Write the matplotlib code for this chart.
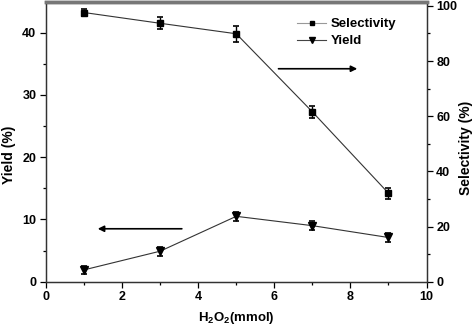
import matplotlib
matplotlib.use("Agg")
import matplotlib.pyplot as plt
from matplotlib.lines import Line2D

plt.rcParams['font.family'] = ['Liberation Sans', 'DejaVu Sans']
plt.rcParams['font.weight'] = 'bold'
plt.rcParams['mathtext.fontset'] = 'custom'
plt.rcParams['mathtext.rm'] = 'Liberation Sans:bold'
plt.rcParams['mathtext.default'] = 'rm'

h2o2 = [1, 3, 5, 7, 9]
yield_vals = [1.9, 4.9, 10.5, 9.0, 7.1]
yield_err = [0.7, 0.7, 0.7, 0.7, 0.7]
selectivity = [97.6, 93.7, 89.9, 61.6, 32.1]
select_err = [1.4, 2.2, 2.9, 2.1, 2.0]

xticks = [0, 2, 4, 6, 8, 10]
yticks_left = [0, 10, 20, 30, 40]
yticks_right = [0, 20, 40, 60, 80, 100]

fig = plt.figure(figsize=(4.74, 3.27), dpi=100)
ax = fig.add_axes([46/474, 1-281.7/327, (426.5-46)/474, (281.7-1.5)/327])
ax2 = ax.twinx()

ax.errorbar(h2o2, yield_vals, yerr=yield_err, color='#333333', lw=0.8,
            marker='v', ms=5.5, mfc='black', mec='black', ecolor='black',
            elinewidth=1.0, capsize=2.5, capthick=1.2)
ax2.errorbar(h2o2, selectivity, yerr=select_err, color='#333333', lw=0.8,
             marker='s', ms=4.5, mfc='black', mec='black', ecolor='black',
             elinewidth=1.0, capsize=2.5, capthick=1.2)

ax.set_xlim(0, 10)
ax.set_ylim(0, 45)
ax2.set_ylim(0, 101.6)
ax.set_xticks(xticks)
ax.set_xticks([1, 3, 5, 7, 9], minor=True)
ax.set_yticks(yticks_left)
ax.set_yticks([5, 15, 25, 35], minor=True)
ax2.set_yticks(yticks_right)
ax2.set_yticks([10, 30, 50, 70, 90], minor=True)

for a in (ax, ax2):
    a.tick_params(which='major', direction='out', length=4, width=0.9, labelsize=9, pad=3)
    a.tick_params(which='minor', direction='out', length=2.5, width=0.9)
    for s in a.spines.values():
        s.set_linewidth(0.9)
        s.set_color('#333333')
for a in (ax, ax2):
    a.spines['top'].set_linewidth(2.5)
    a.spines['top'].set_color('#777777')

ax.set_ylabel('Yield (%)', fontsize=10, fontweight='bold')
ax.yaxis.set_label_coords((16 - 46) / 380.5, 0.452)
ax2.set_ylabel('Selectivity (%)', fontsize=10, fontweight='bold')
ax2.yaxis.set_label_coords((459 - 46) / 380.5, 0.477)
ax.set_xlabel('H$_2$O$_2$(mmol)', fontsize=9.5, fontweight='bold', labelpad=5)

ax.annotate('', xy=(8.18, 34.2), xytext=(6.11, 34.2),
            arrowprops=dict(arrowstyle='-|>', color='black', lw=1.2,
                            mutation_scale=9, shrinkA=0, shrinkB=0))
ax.annotate('', xy=(1.36, 8.5), xytext=(3.57, 8.5),
            arrowprops=dict(arrowstyle='-|>', color='black', lw=1.2,
                            mutation_scale=9, shrinkA=0, shrinkB=0))

handles = [
    Line2D([], [], color='#999999', lw=0.8, marker='s', ms=3.5, mfc='black', mec='black'),
    Line2D([], [], color='#444444', lw=0.8, marker='v', ms=4.5, mfc='black', mec='black'),
]
ax2.legend(handles, ['Selectivity', 'Yield'], loc='upper left', bbox_to_anchor=(0.64, 0.969),
           frameon=False, fontsize=9.5, handlelength=2.2, handletextpad=0.3,
           labelspacing=0.35, borderaxespad=0.2)

fig.savefig('out.png', dpi=100)
